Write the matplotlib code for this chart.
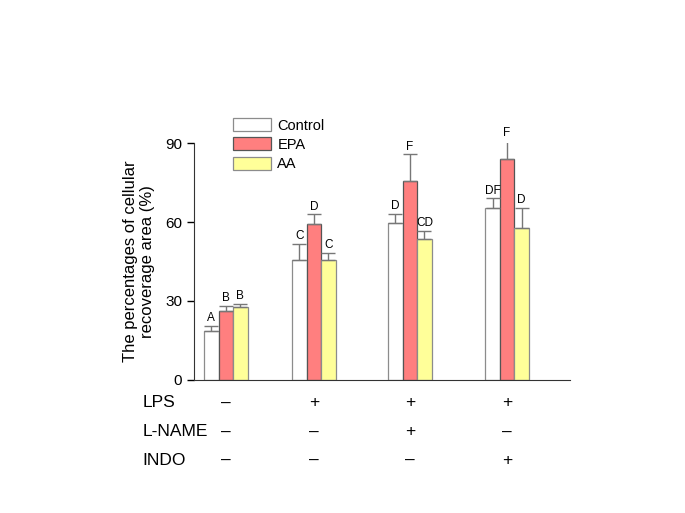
import numpy as np
import matplotlib
matplotlib.use('Agg')
import matplotlib.pyplot as plt

plt.rcParams['font.family'] = ['Liberation Sans', 'DejaVu Sans']

series = ['Control', 'EPA', 'AA']
control = [18.7, 45.4, 59.6, 65.2]
epa = [26.2, 59.4, 75.7, 83.8]
aa = [27.8, 45.4, 53.5, 57.7]
control_err = [1.8, 6.4, 3.6, 3.8]
epa_err = [1.9, 3.5, 10.1, 7.3]
aa_err = [1.1, 3.0, 3.2, 7.7]
control_lbl = ['A', 'C', 'D', 'DF']
epa_lbl = ['B', 'D', 'F', 'F']
aa_lbl = ['B', 'C', 'CD', 'D']

row_names = ['LPS', 'L-NAME', 'INDO']
lps = ['\u2013', '+', '+', '+']
lname = ['\u2013', '\u2013', '+', '\u2013']
indo = ['\u2013', '\u2013', '\u2013', '+']

fills = ['white', '#ff7f7f', '#ffff99']
edges = ['#8c8c8c', '#555555', '#8c8c8c']

group_pos = np.array([0, 0.939, 1.964, 3.0])
w = 0.155

fig = plt.figure(figsize=(6.85, 5.13), dpi=100)
ax = fig.add_axes([0.283, 0.2593, 0.549, 0.4619])

vals = [control, epa, aa]
errs = [control_err, epa_err, aa_err]
lbls = [control_lbl, epa_lbl, aa_lbl]
for k in range(3):
    x = group_pos + (k - 1) * w
    ax.bar(x, vals[k], w, color=fills[k], edgecolor=edges[k], linewidth=0.9,
           label=series[k], zorder=2)
    ax.errorbar(x, vals[k], yerr=[np.zeros(4), errs[k]], fmt='none',
                ecolor='#777777', elinewidth=1.0, capsize=5, capthick=1.0, zorder=3)
    for xi, v, e, t in zip(x, vals[k], errs[k], lbls[k]):
        ax.text(xi, v + e + 0.6, t, ha='center', va='bottom', fontsize=8.5)

ax.set_xlim(-0.342, 3.671)
ax.set_ylim(0, 90)
ax.set_yticks([0, 30, 60, 90])
ax.tick_params(axis='y', labelsize=11, length=5, width=1, direction='out')
ax.set_xticks([])
ax.spines['top'].set_visible(False)
ax.spines['right'].set_visible(False)
ax.spines['left'].set_color('#333333')
ax.spines['bottom'].set_color('#333333')
ax.set_ylabel('The percentages of cellular\nrecoverage area (%)', fontsize=12,
              labelpad=7)

rows = [lps, lname, indo]
row_y = [-0.097, -0.219, -0.338]
for name, signs, yy in zip(row_names, rows, row_y):
    ax.text(-0.136, yy, name, transform=ax.transAxes, fontsize=12.5,
            ha='left', va='center')
    for xi, s in zip(group_pos, signs):
        ax.text(xi, yy, s, transform=ax.get_xaxis_transform(), fontsize=12.5,
                ha='center', va='center')

ax.legend(loc='upper left', bbox_to_anchor=(0.340, 0.770),
          bbox_transform=fig.transFigure, frameon=False, fontsize=10.5,
          handlelength=2.6, handleheight=1.0, labelspacing=0.33,
          handletextpad=0.45, borderpad=0, borderaxespad=0)

fig.savefig('out.png', dpi=100)
